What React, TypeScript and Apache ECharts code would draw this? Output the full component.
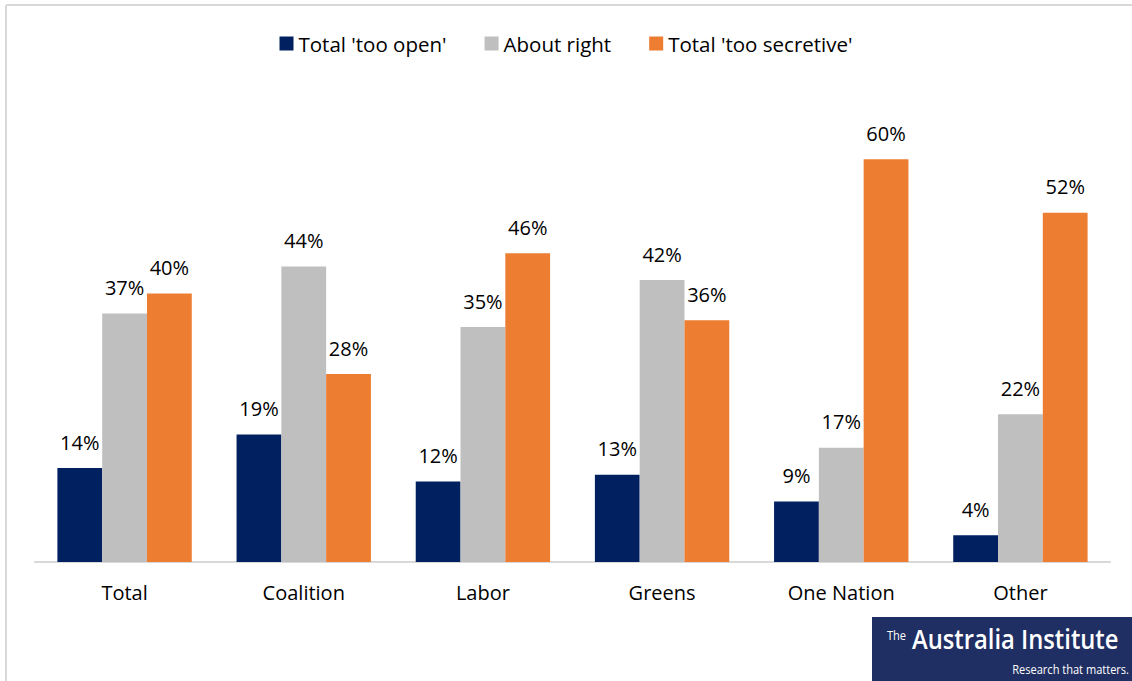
import React, { useEffect, useRef } from "react";
import * as echarts from "echarts";

const categories = ["Total", "Coalition", "Labor", "Greens", "One Nation", "Other"];
const tooOpen = [14, 19, 12, 13, 9, 4];
const aboutRight = [37, 44, 35, 42, 17, 22];
const tooSecretive = [40, 28, 46, 36, 60, 52];
const seriesNames = ["Total 'too open'", "About right", "Total 'too secretive'"];
const colors = ["#002060", "#BFBFBF", "#ED7D31"];

const FONT = "'Open Sans', 'Noto Sans', sans-serif";

export default function App() {
  const ref = useRef<HTMLDivElement>(null);
  useEffect(() => {
    const chart = echarts.init(ref.current!, null, { renderer: "svg" });
    const mk = (name: string, data: number[], color: string) => ({
      name,
      type: "bar",
      data,
      itemStyle: { color },
      barGap: "0%",
      barCategoryGap: "25%",
      label: {
        show: true,
        position: "top",
        distance: 16,
        formatter: "{c}%",
        color: "#000",
        fontSize: 20,
        fontFamily: FONT,
      },
    });
    chart.setOption({
      animation: false,
      legend: {
        top: 28,
        left: "center",
        itemWidth: 14,
        itemHeight: 14,
        itemGap: 38,
        icon: "rect",
        textStyle: { fontSize: 20.5, color: "#000", fontFamily: FONT },
        data: seriesNames,
      },
      grid: { left: 35, right: 22, top: 92, bottom: 119 },
      xAxis: {
        type: "category",
        data: categories,
        axisLine: { lineStyle: { color: "#D9D9D9", width: 2 } },
        axisTick: { show: false },
        axisLabel: { fontSize: 20, color: "#000", fontFamily: FONT, margin: 20 },
      },
      yAxis: {
        type: "value",
        min: 0,
        max: 70,
        show: false,
        splitLine: { show: false },
      },
      series: [
        mk(seriesNames[0], tooOpen, colors[0]),
        mk(seriesNames[1], aboutRight, colors[1]),
        mk(seriesNames[2], tooSecretive, colors[2]),
      ],
      graphic: [
        { type: "line", shape: { x1: 6, y1: 5, x2: 1132, y2: 5 }, style: { stroke: "#D9D9D9", lineWidth: 2 } },
        { type: "line", shape: { x1: 6, y1: 5, x2: 6, y2: 681 }, style: { stroke: "#D9D9D9", lineWidth: 2 } },
        { type: "rect", shape: { x: 872, y: 617, width: 260, height: 64 }, style: { fill: "#1F2F63" } },
        { type: "text", x: 887, y: 629, scaleX: 0.85, style: { text: "The", fill: "#fff", fontSize: 13, fontFamily: FONT, letterSpacing: -1 } },
        { type: "text", x: 912, y: 625, scaleX: 0.88, style: { text: "Australia Institute", fill: "#fff", fontSize: 27, fontWeight: 600, fontFamily: FONT, letterSpacing: -0.5 } },
        { type: "text", x: 1129, y: 663, scaleX: 0.85, style: { text: "Research that matters.", fill: "#fff", fontSize: 13, align: "right", fontFamily: FONT } },
      ],
    });
    return () => chart.dispose();
  }, []);
  return <div ref={ref} style={{ width: 1132, height: 681, position: "absolute", left: 0, top: 0 }} />;
}
